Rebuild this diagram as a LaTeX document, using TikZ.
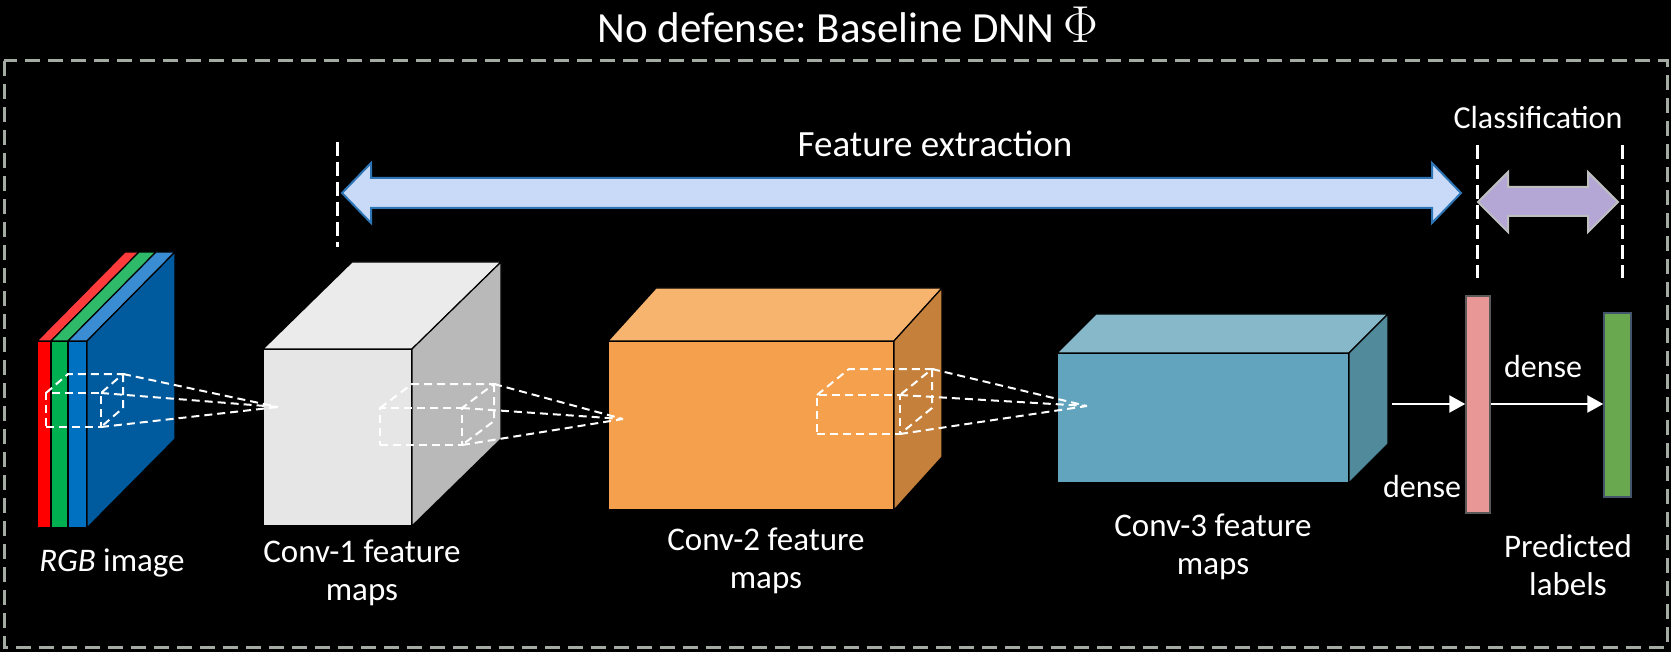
\RequirePackage{fix-cm}
\documentclass[tikz,border=0pt]{standalone}
\usepackage{fontspec}
\setmainfont{Carlito}
\usetikzlibrary{arrows.meta,positioning}
\frenchspacing

\definecolor{framegray}{HTML}{A3ABA3}
\definecolor{rgbred}{HTML}{FF0000}
\definecolor{redtop}{HTML}{FF3B3B}
\definecolor{rgbgreen}{HTML}{00B050}
\definecolor{greentop}{HTML}{2EBA68}
\definecolor{rgbblue}{HTML}{0070C0}
\definecolor{bluetop}{HTML}{3A8DD2}
\definecolor{blueside}{HTML}{005A9E}
\definecolor{cfront}{HTML}{E6E6E6}
\definecolor{ctop}{HTML}{EBEBEB}
\definecolor{cside}{HTML}{B9B9B9}
\definecolor{dfront}{HTML}{F4A04C}
\definecolor{dtop}{HTML}{F7B46F}
\definecolor{dside}{HTML}{C5813B}
\definecolor{efront}{HTML}{62A4BD}
\definecolor{etop}{HTML}{86B8CA}
\definecolor{eside}{HTML}{518A9B}
\definecolor{featfill}{HTML}{C9DAF8}
\definecolor{featline}{HTML}{2E75B6}
\definecolor{clsfill}{HTML}{B4A7D6}
\definecolor{clsline}{HTML}{BFBFBF}
\definecolor{hiddenfill}{HTML}{E89696}
\definecolor{outfill}{HTML}{6AA84F}
\definecolor{outline}{HTML}{44546A}

\begin{document}
\begin{tikzpicture}[x=1pt,y=-1pt,
    face/.style={draw=black, line width=1.2pt, inner sep=0pt, outer sep=0pt, anchor=north west},
    kernbox/.style={draw=white, line width=2pt, dash pattern=on 8pt off 5pt, inner sep=0pt, outer sep=0pt, anchor=north west},
    kern/.style={draw=white, line width=2pt, dash pattern=on 8pt off 5pt},
    sepline/.style={draw=white, line width=3pt, dash pattern=on 14pt off 6pt},
    densearrow/.style={draw=white, line width=2.5pt, -{Triangle[length=16pt,width=17pt]}},
    lbl/.style={text=white, font=\fontsize{33}{38}\selectfont, align=center},
]
    \fill[black] (0,0) rectangle (1671,652);
    \useasboundingbox (0,0) rectangle (1671,652);

    % outer frame and title
    \draw[framegray, line width=3pt, dash pattern=on 15pt off 8pt] (4,61) rectangle (1667,647);
    \node[text=white, font=\fontsize{43}{48}\selectfont] (title) at (848,25) {No defense: Baseline DNN {\fontsize{52}{52}\selectfont$\Phi$}};

    % RGB image
    \node[face, fill=rgbred, minimum width=14pt, minimum height=187pt] (red) at (37,341) {};
    \node[face, fill=rgbgreen, minimum width=17pt, minimum height=187pt, right=0pt of red] (green) {};
    \node[face, fill=rgbblue, minimum width=19pt, minimum height=187pt, right=0pt of green] (blue) {};
    \filldraw[fill=redtop, line width=1.2pt] (red.north west) -- ++(88,-89) -- ++(14,0) -- (red.north east) -- cycle;
    \filldraw[fill=greentop, line width=1.2pt] (green.north west) -- ++(88,-89) -- ++(17,0) -- (green.north east) -- cycle;
    \filldraw[fill=bluetop, line width=1.2pt] (blue.north west) -- ++(88,-89) -- ++(19,0) -- (blue.north east) -- cycle;
    \filldraw[fill=blueside, line width=1.2pt] (blue.north east) -- ++(88,-89) -- ++(0,187) -- (blue.south east) -- cycle;

    % Conv-1
    \node[face, fill=cfront, minimum width=149pt, minimum height=177pt] (c1) at (263,349) {};
    \filldraw[fill=ctop, line width=1.2pt] (c1.north west) -- ++(89,-87) -- ++(149,0) -- (c1.north east) -- cycle;
    \filldraw[fill=cside, line width=1.2pt] (c1.north east) -- ++(89,-87) -- ++(0,177) -- (c1.south east) -- cycle;

    % Conv-2
    \node[face, fill=dfront, minimum width=286pt, minimum height=169pt] (c2) at (608,341) {};
    \filldraw[fill=dtop, line width=1.2pt] (c2.north west) -- ++(48,-53) -- ++(286,0) -- (c2.north east) -- cycle;
    \filldraw[fill=dside, line width=1.2pt] (c2.north east) -- ++(48,-53) -- ++(0,169) -- (c2.south east) -- cycle;

    % Conv-3
    \node[face, fill=efront, minimum width=292pt, minimum height=130pt] (c3) at (1057,353) {};
    \filldraw[fill=etop, line width=1.2pt] (c3.north west) -- ++(39,-39) -- ++(292,0) -- (c3.north east) -- cycle;
    \filldraw[fill=eside, line width=1.2pt] (c3.north east) -- ++(39,-39) -- ++(0,130) -- (c3.south east) -- cycle;

    % kernels
    \node[kernbox, minimum width=55pt, minimum height=34pt] (k0) at (46,393) {};
    \draw[kern] (k0.north west) -- ++(22,-19) -- ++(55,0) coordinate (k0b) -- (k0.north east);
    \draw[kern] (k0b) -- ++(0,34) -- (k0.south east);
    \coordinate (a0) at (278,407);

    \node[kernbox, minimum width=82pt, minimum height=37pt] (k1) at (380,408) {};
    \draw[kern] (k1.north west) -- ++(32,-24) -- ++(82,0) coordinate (k1b) -- (k1.north east);
    \draw[kern] (k1b) -- ++(0,37) -- (k1.south east);
    \coordinate (a1) at (623,419);

    \node[kernbox, minimum width=83pt, minimum height=39pt] (k2) at (817,395) {};
    \draw[kern] (k2.north west) -- ++(32,-26) -- ++(83,0) coordinate (k2b) -- (k2.north east);
    \draw[kern] (k2b) -- ++(0,39) -- (k2.south east);
    \coordinate (a2) at (1087,406);

    \draw[kern] (k0b) -- (a0) (k0.north east) -- (a0) (k0.south east) -- (a0);
    \draw[kern] (k1b) -- (a1) (k1.north east) -- (a1) (k1.south east) -- (a1);
    \draw[kern] (k2b) -- (a2) (k2.north east) -- (a2) (k2.south east) -- (a2);

    % dense layers
    \node[draw=gray!70!black, line width=1.5pt, fill=hiddenfill, minimum width=24pt, minimum height=217pt, inner sep=0pt] (hidden) at (1478,404.5) {};
    \node[draw=outline, line width=1.5pt, fill=outfill, minimum width=27pt, minimum height=184pt, inner sep=0pt] (out) at (1617.5,405) {};
    \coordinate (c3out) at (1392,404);
    \draw[densearrow] (c3out) -- (hidden.west |- c3out);
    \draw[densearrow] (hidden.east |- c3out) -- (out.west |- c3out);

    % stage arrows
    \filldraw[fill=featfill, draw=featline, line width=2pt]
        (342,193) -- (371,163) -- (371,178) -- (1432,178) -- (1432,163) -- (1461,193)
        -- (1432,223) -- (1432,208) -- (371,208) -- (371,223) -- cycle;
    \filldraw[fill=clsfill, draw=clsline, line width=2pt]
        (1478,202) -- (1508,172) -- (1508,187) -- (1588,187) -- (1588,172) -- (1618,202)
        -- (1588,232) -- (1588,216) -- (1508,216) -- (1508,232) -- cycle;

    \coordinate (s1t) at (337,142);  \coordinate (s1b) at (337,247);
    \coordinate (s2t) at (1477,145); \coordinate (s2b) at (1477,278);
    \coordinate (s3t) at (1622,145); \coordinate (s3b) at (1622,278);
    \draw[sepline] (s1t) -- (s1b);
    \draw[sepline] (s2t) -- (s2b);
    \draw[sepline] (s3t) -- (s3b);

    % labels
    \node[lbl, font=\fontsize{37}{42}\selectfont] (featlbl) at (935,144) {Feature extraction};
    \node[lbl, font=\fontsize{32}{38}\selectfont] (clslbl) at (1538,118) {Classification};
    \node[lbl] (rgblbl) at (112,563) {\textit{RGB} image};
    \node[lbl] (c1lbl) at (362,573) {Conv-1 feature\\maps};
    \node[lbl] (c2lbl) at (766,561) {Conv-2 feature\\maps};
    \node[lbl] (c3lbl) at (1213,547) {Conv-3 feature\\maps};
    \node[lbl] (predlbl) at (1568,565) {Predicted\\labels};
    \node[lbl, font=\fontsize{32}{38}\selectfont] (dense1) at (1422,487) {dense};
    \node[lbl, font=\fontsize{32}{38}\selectfont] (dense2) at (1543,367) {dense};
\end{tikzpicture}
\end{document}
